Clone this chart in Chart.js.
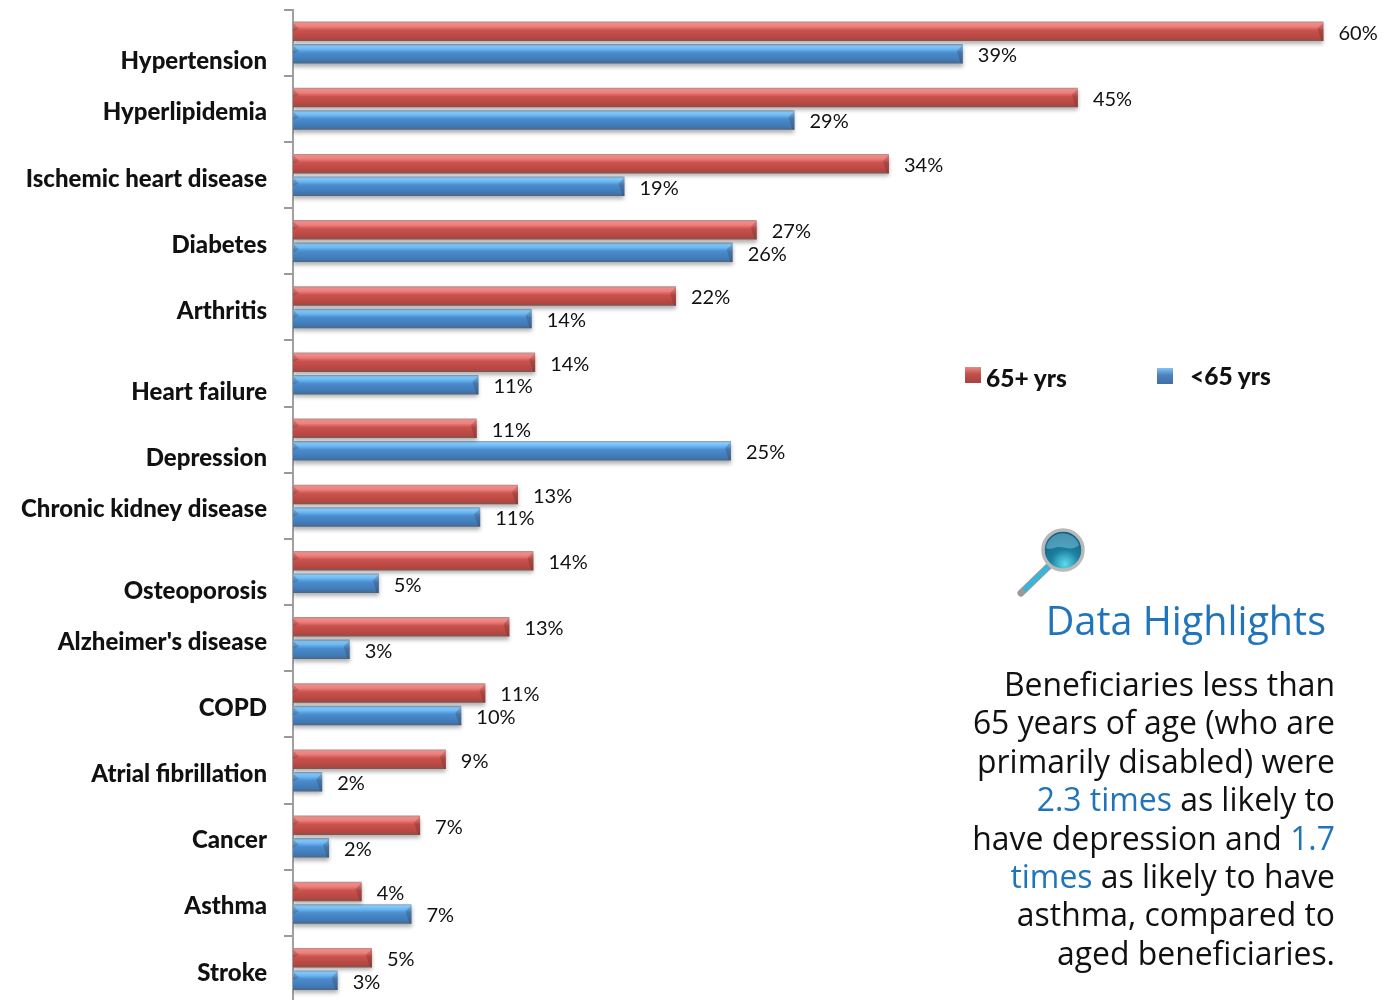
<!DOCTYPE html>
<html>
<head>
<meta charset="utf-8">
<title>Chronic conditions</title>
<script src="https://cdn.jsdelivr.net/npm/chart.js@4"></script>
<style>
  html, body { margin: 0; padding: 0; background: #fff; }
  #page { position: relative; width: 1390px; height: 1000px; overflow: hidden; }
  #chart { position: absolute; left: 0; top: 0; }
  .legend { position: absolute; font: 900 24.5px Lato, sans-serif; color: #111; white-space: nowrap; }
  .swatch { position: absolute; width: 16px; height: 16px; }
  #title { position: absolute; right: 64px; top: 593px; font: 39.5px "Open Sans", sans-serif; color: #1f74bb; white-space: nowrap; }
  #note { position: absolute; right: 55px; top: 665px; text-align: right; font: 31.9px/38.4px "Open Sans", sans-serif; color: #111; white-space: nowrap; }
  #note span { color: #1f74bb; }
  #lens { position: absolute; left: 1012px; top: 524px; }
</style>
</head>
<body>
<div id="page">
  <canvas id="chart" width="1390" height="1010"></canvas>

  <div class="swatch" style="left:965px;top:367px;background:linear-gradient(#e98a86,#c0504d 45%,#a8423f)"></div>
  <div class="legend" style="left:986px;top:363px">65+ yrs</div>
  <div class="swatch" style="left:1157px;top:368px;background:linear-gradient(#7fc4f5,#4f81bd 45%,#3f6fa8)"></div>
  <div class="legend" style="left:1190px;top:361px">&lt;65 yrs</div>

  <svg id="lens" width="80" height="80" viewBox="0 0 80 80">
    <defs>
      <radialGradient id="glass" cx="55%" cy="85%" r="80%">
        <stop offset="0" stop-color="#5fdcec"/>
        <stop offset="0.45" stop-color="#1c7fa0"/>
        <stop offset="1" stop-color="#0f5d80"/>
      </radialGradient>
    </defs>
    <line x1="9" y1="69" x2="38" y2="41" stroke="#9a9a9a" stroke-width="7" stroke-linecap="round"/>
    <line x1="12" y1="66" x2="37" y2="42" stroke="#35b6da" stroke-width="5"/>
    <circle cx="51" cy="26" r="20" fill="url(#glass)" stroke="#b9b9b9" stroke-width="3.5"/>
    <path d="M34 24 a17 17 0 0 1 33 -3 c-8 7 -14 1 -21 2 c-5 1 -8 3 -12 1z" fill="#8fd3e6" opacity="0.45"/>
  </svg>

  <div id="title">Data Highlights</div>
  <div id="note">Beneficiaries less than<br>65 years of age (who are<br>primarily disabled) were<br><span>2.3 times</span> as likely to<br>have depression and <span>1.7</span><br><span>times</span> as likely to have<br>asthma, compared to<br>aged beneficiaries.</div>
</div>

<script>
const categories = ['Hypertension', 'Hyperlipidemia', 'Ischemic heart disease', 'Diabetes', 'Arthritis',
  'Heart failure', 'Depression', 'Chronic kidney disease', 'Osteoporosis', "Alzheimer's disease",
  'COPD', 'Atrial fibrillation', 'Cancer', 'Asthma', 'Stroke'];
// bar lengths (the printed labels are rounded differently)
const aged = [60, 45.7, 34.7, 27, 22.3, 14.1, 10.7, 13.1, 14, 12.6, 11.2, 8.9, 7.4, 4, 4.6];
const young = [39, 29.2, 19.3, 25.6, 13.9, 10.8, 25.5, 10.9, 5, 3.3, 9.8, 1.7, 2.1, 6.9, 2.6];
const agedLabels = ['60%', '45%', '34%', '27%', '22%', '14%', '11%', '13%', '14%', '13%', '11%', '9%', '7%', '4%', '5%'];
const youngLabels = ['39%', '29%', '19%', '26%', '14%', '11%', '25%', '11%', '5%', '3%', '10%', '2%', '2%', '7%', '3%'];

// some category labels sit lower than the others in the original
const droppedLabels = ['Hypertension', 'Heart failure', 'Depression', 'Osteoporosis'];

const redStops = [[0, '#a8908e'], [0.1, '#f08a87'], [0.25, '#ee7f7b'], [0.45, '#c9524e'], [0.85, '#b5463f'], [1, '#7d5654']];
const blueStops = [[0, '#8f9fae'], [0.1, '#86ccff'], [0.25, '#6cb8f5'], [0.45, '#4a8ccd'], [0.85, '#3f78b4'], [1, '#4d6580']];
const catPct = 0.68, barPct = 0.867;

function barFill(stops) {
  return function (c) {
    const yScale = c.chart.scales.y;
    // the scale has no size yet the first time options get resolved
    if (!yScale || !yScale.height || !isFinite(yScale.getPixelForValue(c.dataIndex))) return stops[3][1];
    const band = yScale.height / categories.length;
    const slot = band * catPct / 2;
    const centre = yScale.getPixelForValue(c.dataIndex) + (c.datasetIndex === 0 ? -slot / 2 : slot / 2);
    const h = slot * barPct;
    const g = c.chart.ctx.createLinearGradient(0, centre - h / 2, 0, centre + h / 2);
    stops.forEach(s => g.addColorStop(s[0], s[1]));
    return g;
  };
}

const barDecor = {
  id: 'barDecor',
  beforeDatasetsDraw(chart) {
    chart.ctx.save();
    chart.ctx.shadowColor = 'rgba(0,0,0,0.3)';
    chart.ctx.shadowBlur = 4;
    chart.ctx.shadowOffsetY = 3;
  },
  afterDatasetsDraw(chart) {
    const ctx = chart.ctx;
    ctx.restore();
    // bevelled ends of each bar
    chart.data.datasets.forEach((ds, i) => {
      chart.getDatasetMeta(i).data.forEach(el => {
        const top = el.y - el.height / 2, bot = el.y + el.height / 2;
        const bev = Math.min(6, el.height / 3);
        ctx.fillStyle = 'rgba(60,30,30,0.22)';
        ctx.beginPath();
        ctx.moveTo(el.base, top + 1);
        ctx.lineTo(el.base + bev, top + bev + 1);
        ctx.lineTo(el.base, top + bev * 1.6);
        ctx.fill();
        ctx.beginPath();
        ctx.moveTo(el.x, top + 1);
        ctx.lineTo(el.x, bot);
        ctx.lineTo(el.x - 2, bot);
        ctx.lineTo(el.x - bev, top + bev + 1);
        ctx.fill();
      });
    });
  },
  afterDraw(chart) {
    const ctx = chart.ctx;
    const yScale = chart.scales.y;
    ctx.save();
    ctx.textBaseline = 'middle';
    // value labels
    ctx.font = '20px Lato, sans-serif';
    ctx.fillStyle = '#111';
    ctx.textAlign = 'left';
    [agedLabels, youngLabels].forEach((labels, i) => {
      chart.getDatasetMeta(i).data.forEach((el, j) => {
        ctx.fillText(labels[j], el.x + 15, el.y + 2);
      });
    });
    // category labels
    ctx.font = '900 24px Lato, sans-serif';
    ctx.textAlign = 'right';
    categories.forEach((name, i) => {
      const shift = droppedLabels.includes(name) ? 19 : 4;
      ctx.fillText(name, 267, yScale.getPixelForValue(i) + shift);
    });
    ctx.restore();
  }
};

new Chart(document.getElementById('chart'), {
  type: 'bar',
  plugins: [barDecor],
  data: {
    labels: categories,
    datasets: [
      { label: '65+ yrs', data: aged, backgroundColor: barFill(redStops), categoryPercentage: catPct, barPercentage: barPct },
      { label: '<65 yrs', data: young, backgroundColor: barFill(blueStops), categoryPercentage: catPct, barPercentage: barPct }
    ]
  },
  options: {
    indexAxis: 'y',
    responsive: false,
    animation: false,
    layout: { padding: { top: 9.5, bottom: 8, right: 15 } },
    plugins: { legend: { display: false }, tooltip: { enabled: false } },
    scales: {
      x: { display: false, min: 0, max: 63 },
      y: {
        afterFit(s) { s.width = 293; },
        grid: { drawOnChartArea: false, tickLength: 9, color: '#999', lineWidth: 2 },
        border: { color: '#a0a0a0', width: 2 },
        ticks: { display: false }
      }
    }
  }
});
</script>
</body>
</html>
